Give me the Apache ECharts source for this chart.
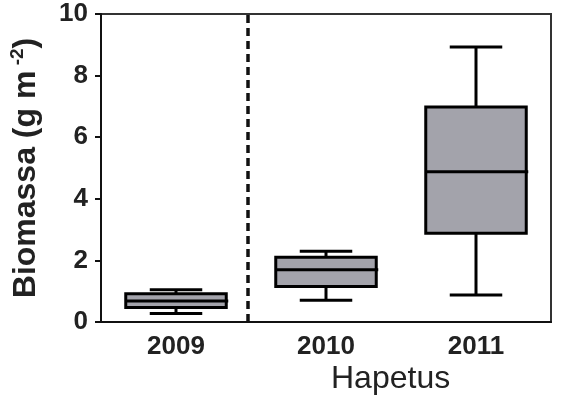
<!DOCTYPE html>
<html>
<head>
<meta charset="utf-8">
<script src="https://cdn.jsdelivr.net/npm/echarts@6/dist/echarts.min.js"></script>
<style>
  html, body { margin: 0; padding: 0; background: #fff; }
  #chart { width: 562px; height: 397px; }
</style>
</head>
<body>
<div id="chart"></div>
<script>
// anos (categorias)
const years = ["2009", "2010", "2011"];
// min, q1, mediana, q3, max por ano
const minVals = [0.28, 0.71, 0.88];
const q1Vals = [0.47, 1.15, 2.88];
const medVals = [0.68, 1.70, 4.88];
const q3Vals = [0.92, 2.10, 6.98];
const maxVals = [1.05, 2.30, 8.93];
// posicao da linha tracejada (entre 2009 e 2010)
const splitX = 0.98;
const yTicks = [0, 2, 4, 6, 8, 10];

let boxData = years.map((y, i) => [i, minVals[i], q1Vals[i], medVals[i], q3Vals[i], maxVals[i]]);

let chart = echarts.init(document.getElementById("chart"));

function renderBox(params, api) {
  let idx = api.value(0);
  let band = api.size([1, 0])[0];
  let boxW = band * 0.67;
  let capW = band * 0.35;
  let pMin = api.coord([idx, api.value(1)]);
  let pQ1 = api.coord([idx, api.value(2)]);
  let pMed = api.coord([idx, api.value(3)]);
  let pQ3 = api.coord([idx, api.value(4)]);
  let pMax = api.coord([idx, api.value(5)]);
  let cx = pMed[0];
  let line = { stroke: "#000", lineWidth: 3 };
  return {
    type: "group",
    children: [
      { type: "line", shape: { x1: cx, y1: pMax[1], x2: cx, y2: pQ3[1] }, style: line },
      { type: "line", shape: { x1: cx, y1: pQ1[1], x2: cx, y2: pMin[1] }, style: line },
      { type: "line", shape: { x1: cx - capW / 2, y1: pMax[1], x2: cx + capW / 2, y2: pMax[1] }, style: line },
      { type: "line", shape: { x1: cx - capW / 2, y1: pMin[1], x2: cx + capW / 2, y2: pMin[1] }, style: line },
      {
        type: "rect",
        shape: { x: cx - boxW / 2, y: pQ3[1], width: boxW, height: pQ1[1] - pQ3[1] },
        style: { fill: "#a3a3ab", stroke: "#000", lineWidth: 3 }
      },
      { type: "line", shape: { x1: cx - boxW / 2, y1: pMed[1], x2: cx + boxW / 2 + 2, y2: pMed[1] }, style: line }
    ]
  };
}

let option = {
  animation: false,
  title: {
    text: "Hapetus",
    left: 326,
    top: 358,
    textStyle: { fontFamily: "Liberation Sans", fontWeight: "normal", fontSize: 32, color: "#222" }
  },
  grid: {
    left: 98, right: 11, top: 14, bottom: 75,
    show: true, borderColor: "#333", borderWidth: 2
  },
  xAxis: [
    {
      type: "category",
      data: years,
      axisLine: { lineStyle: { color: "#111", width: 2 } },
      axisTick: { alignWithLabel: true, length: 8, lineStyle: { color: "#111", width: 2 } },
      axisLabel: { margin: 12, color: "#222", fontFamily: "Liberation Sans", fontWeight: "bold", fontSize: 26 },
      splitLine: { show: false }
    },
    { type: "value", min: 0, max: 3, show: false }
  ],
  yAxis: {
    type: "value",
    min: 0, max: 10, interval: 2,
    name: "{b|Biomassa (g m}{sup| -2}{b|)}",
    nameLocation: "middle",
    nameGap: 57,
    nameRotate: 90,
    nameTextStyle: {
      rich: {
        b: { fontFamily: "Liberation Sans", fontWeight: "bold", fontSize: 32, color: "#222", lineHeight: 36 },
        sup: { fontFamily: "Liberation Sans", fontWeight: "bold", fontSize: 19, color: "#222", verticalAlign: "top", lineHeight: 36 }
      }
    },
    axisLine: { show: true, lineStyle: { color: "#111", width: 2 } },
    axisTick: { show: true, length: 6, lineStyle: { color: "#111", width: 2 } },
    axisLabel: {
      margin: 13, color: "#222", fontFamily: "Liberation Sans", fontWeight: "bold", fontSize: 26,
      formatter: v => (yTicks.includes(v) ? String(v) : "")
    },
    splitLine: { show: false }
  },
  series: [
    {
      type: "line",
      xAxisIndex: 1,
      data: [[splitX, 0], [splitX, 10]],
      symbol: "none",
      lineStyle: { color: "#111", width: 3.5, type: [8, 5] },
      silent: true
    },
    {
      type: "custom",
      renderItem: renderBox,
      data: boxData,
      encode: { x: 0, y: [1, 2, 3, 4, 5] },
      z: 3
    }
  ]
};

chart.setOption(option);
</script>
</body>
</html>
